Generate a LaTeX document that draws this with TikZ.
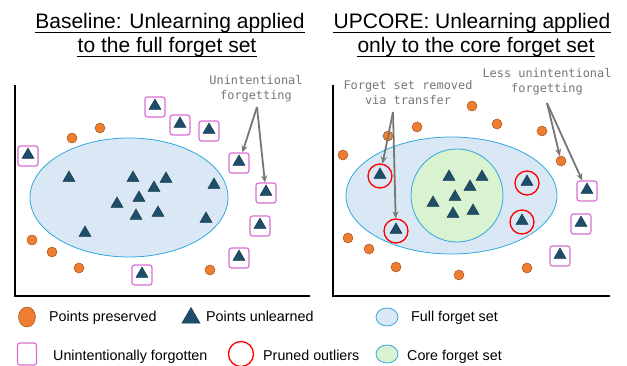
\documentclass[tikz,border=0pt]{standalone}
\usepackage{fontspec}
\setmainfont{Liberation Sans}
\setmonofont{DejaVu Sans Mono}
\usetikzlibrary{shapes.geometric,arrows.meta}

\definecolor{ptorange}{HTML}{ED7D31}
\definecolor{triblue}{HTML}{1F4E6B}
\definecolor{boxpink}{HTML}{D86FD3}
\definecolor{setedge}{HTML}{2EA8DF}
\definecolor{setblue}{HTML}{DAE8F5}
\definecolor{setgreen}{HTML}{D9F2D0}
\definecolor{notegray}{HTML}{767676}

\begin{document}
\begin{tikzpicture}[x=1pt,y=-1pt,
  pres/.style={circle,fill=ptorange,draw=ptorange!70!black,line width=0.5,minimum size=10,inner sep=0},
  tri/.style={regular polygon,regular polygon sides=3,fill=triblue,draw=triblue!70!black,line width=0.5,minimum size=14,inner sep=0},
  forgot/.style={draw=boxpink,line width=1.2,rounded corners=2.5,minimum size=20,inner sep=0},
  pruned/.style={circle,draw=red,line width=1.3,minimum size=24,inner sep=0},
  fullset/.style={ellipse,draw=setedge,fill=setblue,line width=0.8,inner sep=0},
  coreset/.style={ellipse,draw=setedge,fill=setgreen,line width=0.8,inner sep=0},
  note/.style={font=\fontsize{11.9}{15}\selectfont\ttfamily,text=notegray,align=center,inner sep=0},
  ptr/.style={draw=notegray,line width=1.8,-{Stealth[length=7,width=6]}},
  title/.style={font=\fontsize{21}{25}\selectfont,anchor=base,inner sep=0},
  uline/.style={line width=1.3},
  legtxt/.style={font=\fontsize{14.3}{17}\selectfont,anchor=base west,inner sep=0}]
\useasboundingbox (0,0) rectangle (627,366);

% titles
\node[title] (tb1) at (170,29) {Baseline: Unlearning applied};
\node[title] (tb2) at (167,53) {to the full forget set};
\node[title] (tu1) at (472,29) {UPCORE: Unlearning applied};
\node[title] (tu2) at (476,53) {only to the core forget set};
\foreach \t in {tb1,tb2,tu1,tu2}
  \draw[uline] ([yshift=-3.5pt]\t.base west) -- ([yshift=-3.5pt]\t.base east);

% axes
\draw[line width=1.5] (15,85) -- (15,296) -- (310,296);
\draw[line width=1.5] (333,85) -- (333,296) -- (610,296);

% baseline panel
\node[fullset,minimum width=198,minimum height=119] (lfull) at (129,197.5) {};
\foreach \x/\y [count=\i] in {69/178,133/178,166/179,154/188,214/185,139/198,117/204,158/213,136/216,206/219,85/233}
  \node[tri] (lt\i) at (\x,\y) {};
\foreach \x/\y [count=\i] in {28/156,155/107,180/125,209/131,239/163,266/193,260/226,239/258,142/275}{
  \node[forgot] (lb\i) at (\x,\y) {};
  \node[tri] (lbt\i) at (\x,\y-1) {};
}
\foreach \x/\y [count=\i] in {72/138,100/128,32/240,52/252,79/268,210/270}
  \node[pres] (lo\i) at (\x,\y) {};

\node[note] (lnote) at (256,89) {Unintentional\\forgetting};
\coordinate (lfork) at (257,107);
\draw[ptr] (lfork) -- (lb5);
\draw[ptr] (lfork) -- (lb6);

% upcore panel
\node[fullset,minimum width=211,minimum height=117] (rfull) at (451.5,195.5) {};
\node[coreset,minimum width=92,minimum height=93] (rcore) at (457,195.5) {};
\foreach \x/\y [count=\i] in {449/177,482/177,470/187,455/197,433/203,473/211,453/214}
  \node[tri] (rt\i) at (\x,\y) {};
\foreach \x/\y [count=\i] in {380/176,396/231,527/183,522/222}{
  \node[pruned] (rp\i) at (\x,\y) {};
  \node[tri] (rpt\i) at (\x,\y-1) {};
}
\foreach \x/\y [count=\i] in {587/191,581/224,560/256}{
  \node[forgot] (rb\i) at (\x,\y) {};
  \node[tri] (rbt\i) at (\x,\y-1) {};
}
\foreach \x/\y [count=\i] in {472/106,417/127,497/124,542/131,343/155,388/136,561/161,348/238,369/249,396/267,459/275,527/268}
  \node[pres] (ro\i) at (\x,\y) {};

\node[note] (rnoteA) at (408,93) {Forget set removed\\via transfer};
\node[note] (rnoteB) at (547,82) {Less unintentional\\forgetting};
\coordinate (rforkA) at (393,112);
\coordinate (rforkB) at (547,103);
\draw[ptr] (rforkA) -- (rp1);
\draw[ptr] (rforkA) -- (rp2);
\draw[ptr] (rforkB) -- (ro7);
\draw[ptr] (rforkB) -- (rb1);

% legend
\node[pres,ellipse,minimum width=17,minimum height=20] (k1) at (27,317) {};
\node[legtxt] (k1t) at (49,322) {Points preserved};
\node[tri,minimum size=21] (k2) at (191,318) {};
\node[legtxt] (k2t) at (206,322) {Points unlearned};
\node[fullset,minimum width=22,minimum height=18] (k3) at (387,317) {};
\node[legtxt] (k3t) at (411,322) {Full forget set};
\node[forgot,minimum width=19,minimum height=22] (k4) at (27,354) {};
\node[legtxt] (k4t) at (53,360) {Unintentionally forgotten};
\node[pruned,minimum size=25] (k5) at (241,354) {};
\node[legtxt] (k5t) at (263,360) {Pruned outliers};
\node[coreset,minimum width=22,minimum height=18] (k6) at (387,354) {};
\node[legtxt] (k6t) at (407,360) {Core forget set};
\end{tikzpicture}
\end{document}
